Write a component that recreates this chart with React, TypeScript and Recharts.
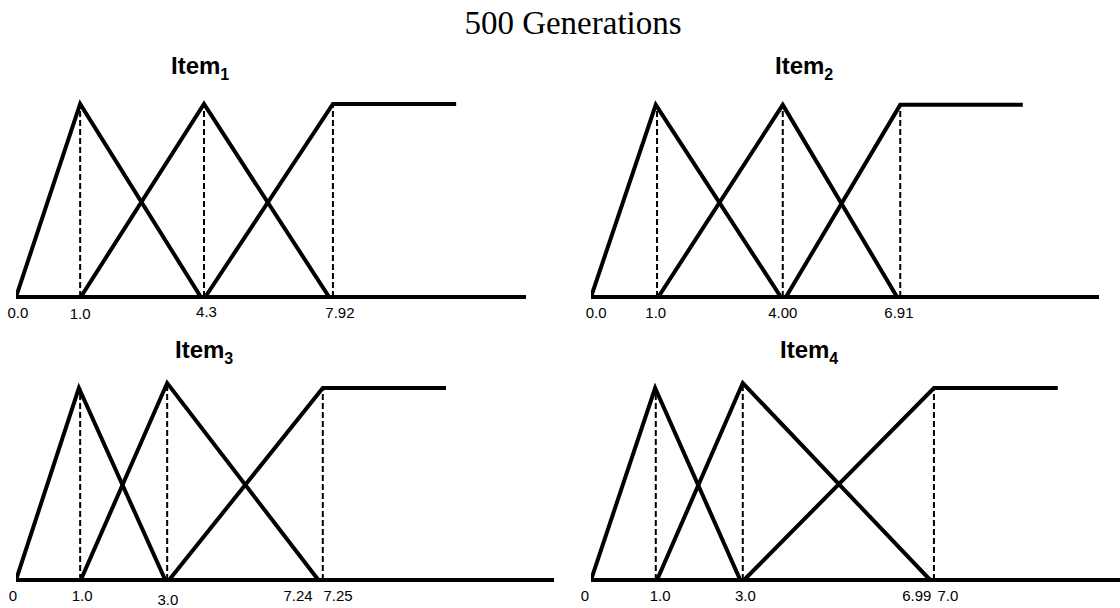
import React from 'react';
import { LineChart, Line, XAxis, YAxis } from 'recharts';

// ---------- data (x in axis-position units, y = membership degree) ----------
const item1TickLabels = ['0.0', '1.0', '4.3', '7.92'];
const item1TickPos = [0.03, 1.01, 3.0, 5.1];
const item1LowX = [0, 1.01, 2.91];
const item1LowY = [0, 1, 0];
const item1MidX = [1.02, 2.96, 4.93];
const item1MidY = [0, 1, 0];
const item1HighX = [2.98, 4.99, 6.93];
const item1HighY = [0, 1, 1];
const item1GuideX = [1.01, 2.96, 4.99];
const item1GuideY = [1, 1, 1];
const item1AxisEnd = 8.03;

const item2TickLabels = ['0.0', '1.0', '4.00', '6.91'];
const item2TickPos = [0.08, 1.02, 3.02, 4.85];
const item2LowX = [0, 1.02, 2.99];
const item2LowY = [0, 1, 0];
const item2MidX = [1.06, 3.02, 4.82];
const item2MidY = [0, 1, 0];
const item2HighX = [3.07, 4.87, 6.8];
const item2HighY = [0, 1, 1];
const item2GuideX = [1.04, 3.02, 4.87];
const item2GuideY = [1, 1, 1];
const item2AxisEnd = 8.0;

const item3TickLabels = ['0', '1.0', '3.0', '7.24', '7.25'];
const item3TickPos = [0, 1.04, 2.39, 4.44, 5.07];
const item3LowX = [0, 0.99, 2.35];
const item3LowY = [0, 1, 0];
const item3MidX = [1.02, 2.38, 4.76];
const item3MidY = [0, 1.026, 0];
const item3HighX = [2.41, 4.83, 6.77];
const item3HighY = [0, 1, 1];
const item3GuideX = [1.01, 2.38, 4.83];
const item3GuideY = [1, 1.026, 1];
const item3AxisEnd = 8.47;

const item4TickLabels = ['0', '1.0', '3.0', '6.99', '7.0'];
const item4TickPos = [0, 1.09, 2.43, 5.13, 5.62];
const item4LowX = [0, 1.01, 2.35];
const item4LowY = [0, 1, 0];
const item4MidX = [1.04, 2.39, 5.34];
const item4MidY = [0, 1.026, 0];
const item4HighX = [2.41, 5.4, 7.35];
const item4HighY = [0, 1, 1];
const item4GuideX = [1.02, 2.39, 5.4];
const item4GuideY = [1, 1.026, 1];
const item4AxisEnd = 8.33;

const chartTitle = '500 Generations';
const itemNames = ['Item', 'Item', 'Item', 'Item'];
const itemSubs = ['1', '2', '3', '4'];

// ---------- helpers ----------
const pts = (xs: number[], ys: number[]) => xs.map((x, i) => ({ x, y: ys[i] }));

type PanelProps = {
  left: number; top: number; width: number; height: number;
  margin: { top: number; right: number; bottom: number; left: number };
  axisEnd: number; yMax: number;
  low: { x: number; y: number }[];
  mid: { x: number; y: number }[];
  high: { x: number; y: number }[];
  guidesX: number[]; guidesY: number[];
  tickPos: number[]; tickLabels: string[];
  tickDx: number[]; tickDy: number[];
};

const FONT = '"Liberation Sans", Arial, sans-serif';

function Panel(p: PanelProps) {
  const renderTick = (props: any) => {
    const v = props.payload.value;
    const i = p.tickPos.indexOf(v);
    const label = i >= 0 ? p.tickLabels[i] : '';
    return (
      <text
        x={props.x + (p.tickDx[i] || 0)}
        y={props.y + 21 + (p.tickDy[i] || 0)}
        textAnchor="middle"
        fontFamily={FONT}
        fontSize={15}
        fill="#000"
      >
        {label}
      </text>
    );
  };
  return (
    <div style={{ position: 'absolute', left: p.left, top: p.top }}>
      <LineChart width={p.width} height={p.height} margin={p.margin} style={{ overflow: 'visible' }}>
        <XAxis
          type="number"
          dataKey="x"
          domain={[0, p.axisEnd]}
          allowDataOverflow
          ticks={p.tickPos}
          interval={0}
          tick={renderTick}
          tickLine={false}
          tickSize={0}
          tickMargin={0}
          height={28}
          axisLine={{ stroke: '#000', strokeWidth: 4 }}
        />
        <YAxis
          type="number"
          dataKey="y"
          domain={[0, p.yMax]}
          allowDataOverflow
          width={0}
          tick={false}
          tickLine={false}
          axisLine={{ stroke: '#000', strokeWidth: 4 }}
        />
        {p.guidesX.map((gx, i) => (
          <Line
            key={'g' + i}
            data={[{ x: gx, y: 0 }, { x: gx, y: p.guidesY[i] }]}
            dataKey="y"
            type="linear"
            stroke="#000"
            strokeWidth={2}
            strokeDasharray="6 3"
            dot={false}
            activeDot={false}
            isAnimationActive={false}
          />
        ))}
        {[p.low, p.mid, p.high].map((d, i) => (
          <Line
            key={'s' + i}
            data={d}
            dataKey="y"
            type="linear"
            stroke="#000"
            strokeWidth={4}
            strokeLinejoin="miter"
            dot={false}
            activeDot={false}
            isAnimationActive={false}
          />
        ))}
      </LineChart>
    </div>
  );
}

function Title({ idx, left, top }: { idx: number; left: number; top: number }) {
  return (
    <div
      style={{
        position: 'absolute', left, top, fontFamily: FONT, fontWeight: 'bold',
        fontSize: 24, lineHeight: '28px', whiteSpace: 'nowrap', color: '#000',
      }}
    >
      {itemNames[idx]}
      <sub style={{ fontSize: 16, verticalAlign: 'baseline', position: 'relative', top: 6 }}>{itemSubs[idx]}</sub>
    </div>
  );
}

export default function App() {
  return (
    <div style={{ position: 'fixed', left: 0, top: 0, width: 1120, height: 608, background: '#fff', overflow: 'hidden' }}>
      <div
        style={{
          position: 'absolute', left: 0, width: 1146, top: 4, textAlign: 'center',
          fontFamily: '"Liberation Serif", "Times New Roman", serif', fontSize: 33, lineHeight: '38px', color: '#000',
        }}
      >
        {chartTitle}
      </div>
      <Title idx={0} left={171} top={52} />
      <Title idx={1} left={775} top={52} />
      <Title idx={2} left={175} top={336} />
      <Title idx={3} left={780} top={336} />

      <Panel
        left={0} top={0} width={560} height={335}
        margin={{ top: 92, left: 16, right: 560 - 526, bottom: 335 - 297 - 28 }}
        axisEnd={item1AxisEnd} yMax={1.062}
        low={pts(item1LowX, item1LowY)} mid={pts(item1MidX, item1MidY)} high={pts(item1HighX, item1HighY)}
        guidesX={item1GuideX} guidesY={item1GuideY}
        tickPos={item1TickPos} tickLabels={item1TickLabels}
        tickDx={[0, 0, 0, 0]} tickDy={[0, 1, -1, 0]}
      />
      <Panel
        left={560} top={0} width={560} height={335}
        margin={{ top: 92, left: 31, right: 560 - 539, bottom: 335 - 297 - 28 }}
        axisEnd={item2AxisEnd} yMax={1.067}
        low={pts(item2LowX, item2LowY)} mid={pts(item2MidX, item2MidY)} high={pts(item2HighX, item2HighY)}
        guidesX={item2GuideX} guidesY={item2GuideY}
        tickPos={item2TickPos} tickLabels={item2TickLabels}
        tickDx={[0, 0, 0, 0]} tickDy={[0, 0, 0, 0]}
      />
      <Panel
        left={0} top={300} width={560} height={308}
        margin={{ top: 75, left: 16, right: 560 - 554, bottom: 308 - 280 - 28 }}
        axisEnd={item3AxisEnd} yMax={1.068}
        low={pts(item3LowX, item3LowY)} mid={pts(item3MidX, item3MidY)} high={pts(item3HighX, item3HighY)}
        guidesX={item3GuideX} guidesY={item3GuideY}
        tickPos={item3TickPos} tickLabels={item3TickLabels}
        tickDx={[-3, 0, 0, 0, 0]} tickDy={[0, 0, 4, 0, 0]}
      />
      <Panel
        left={560} top={300} width={560} height={308}
        margin={{ top: 75, left: 31, right: 0, bottom: 308 - 280 - 28 }}
        axisEnd={item4AxisEnd} yMax={1.068}
        low={pts(item4LowX, item4LowY)} mid={pts(item4MidX, item4MidY)} high={pts(item4HighX, item4HighY)}
        guidesX={item4GuideX} guidesY={item4GuideY}
        tickPos={item4TickPos} tickLabels={item4TickLabels}
        tickDx={[-6, 0, 0, 0, 0]} tickDy={[0, 0, 0, 0, 0]}
      />
    </div>
  );
}
